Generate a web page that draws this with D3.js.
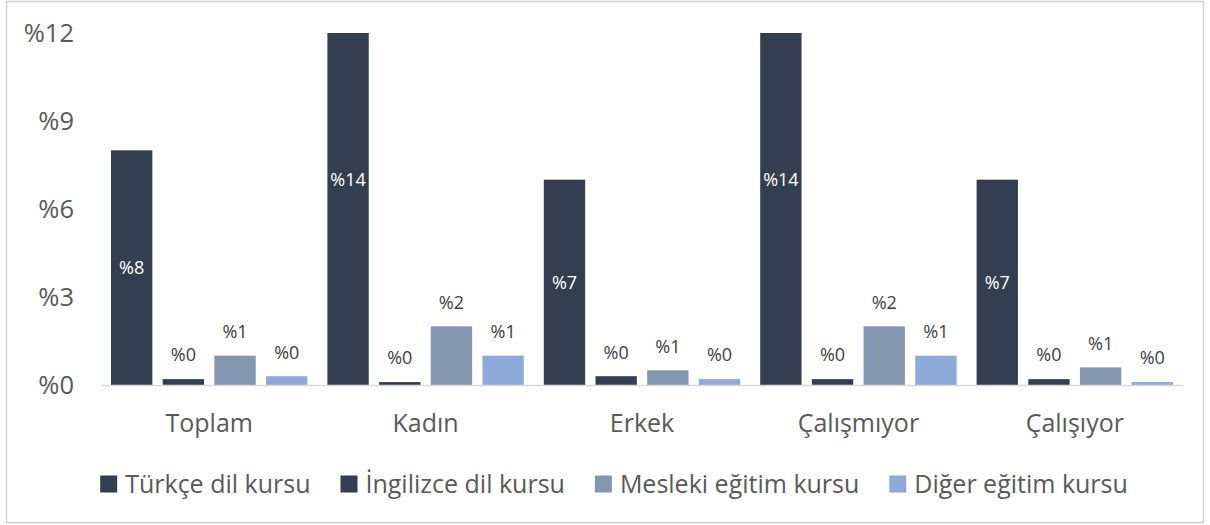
<!DOCTYPE html>
<html>
<meta charset="utf-8">
<title>Kurs katılımı</title>
<style>
body { margin: 0; background: #fff; }
text { font-family: "Open Sans", "Noto Sans", sans-serif; fill: #595959; }
</style>
<body>
<svg id="chart" width="1210" height="525"></svg>
<script src="https://cdn.jsdelivr.net/npm/d3@7"></script>
<script>
// categories and series
var categories = ["Toplam", "Kadın", "Erkek", "Çalışmıyor", "Çalışıyor"];
var seriesNames = ["Türkçe dil kursu", "İngilizce dil kursu", "Mesleki eğitim kursu", "Diğer eğitim kursu"];
var colors = ["#333f50", "#333f50", "#8497b0", "#8eaadb"];

var turkce    = [8, 14, 7, 14, 7];
var ingilizce = [0.2, 0.1, 0.3, 0.2, 0.2];
var mesleki   = [1.0, 2.0, 0.5, 2.0, 0.6];
var diger     = [0.3, 1.0, 0.2, 1.0, 0.1];
var yTicks = [0, 3, 6, 9, 12];

var values = [turkce, ingilizce, mesleki, diger];

var svg = d3.select("#chart");
var plotLeft = 101, plotRight = 1183, plotTop = 33, plotBottom = 385;

// outer frame
svg.append("rect")
  .attr("x", 6.5).attr("y", 1.5)
  .attr("width", 1197).attr("height", 521)
  .attr("fill", "none").attr("stroke", "#d0d0d0").attr("stroke-width", 1.5);

var x0 = d3.scaleBand().domain(categories).range([plotLeft, plotRight]);
var x1 = d3.scaleBand().domain(d3.range(seriesNames.length)).range([10, x0.bandwidth() - 10]).paddingInner(0.2);
var y = d3.scaleLinear().domain([0, 12]).range([plotBottom, plotTop]);

// y tick labels
svg.append("g").selectAll("text")
  .data(yTicks).enter().append("text")
  .attr("x", 74)
  .attr("y", function(d){ return y(d); })
  .attr("dy", "0.35em")
  .attr("text-anchor", "end")
  .style("font-size", "25.5px")
  .text(function(d){ return "%" + d; });

svg.append("defs").append("clipPath").attr("id", "plotclip")
  .append("rect").attr("x", plotLeft).attr("y", plotTop).attr("width", plotRight - plotLeft).attr("height", plotBottom - plotTop);

var rows = [];
categories.forEach(function(c, i){
  values.forEach(function(s, j){
    rows.push({cat: c, s: j, v: s[i]});
  });
});

var bars = svg.append("g").attr("clip-path", "url(#plotclip)");
bars.selectAll("rect").data(rows).enter().append("rect")
  .attr("x", function(d){ return x0(d.cat) + x1(d.s); })
  .attr("width", x1.bandwidth())
  .attr("y", function(d){ return y(d.v); })
  .attr("height", function(d){ return plotBottom - y(d.v); })
  .attr("fill", function(d){ return colors[d.s]; });

// axis line
svg.append("line")
  .attr("x1", plotLeft).attr("x2", plotRight)
  .attr("y1", plotBottom + 0.5).attr("y2", plotBottom + 0.5)
  .attr("stroke", "#d9d9d9").attr("stroke-width", 1.5);

// data labels
svg.append("g").selectAll("text").data(rows).enter().append("text")
  .attr("x", function(d){ return x0(d.cat) + x1(d.s) + x1.bandwidth() / 2; })
  .attr("y", function(d){
    return d.s === 0 ? (y(d.v) + plotBottom) / 2 : y(d.v) - 24;
  })
  .attr("dy", "0.35em")
  .attr("text-anchor", "middle")
  .style("font-size", "18px")
  .style("fill", function(d){ return d.s === 0 ? "#ffffff" : "#404040"; })
  .text(function(d){ return "%" + Math.round(d.v); });

// category labels
svg.append("g").selectAll("text").data(categories).enter().append("text")
  .attr("x", function(d){ return x0(d) + x0.bandwidth() / 2; })
  .attr("y", 423)
  .attr("dy", "0.35em")
  .attr("text-anchor", "middle")
  .style("font-size", "25px")
  .text(function(d){ return d; });

// legend, laid out from measured text widths and centred
var legend = svg.append("g").attr("transform", "translate(0,484)");
var items = legend.selectAll("g").data(seriesNames).enter().append("g");
items.append("rect").attr("x", 0).attr("y", -8.5).attr("width", 17).attr("height", 17)
  .attr("fill", function(d, i){ return colors[i]; });
items.append("text").attr("x", 25).attr("dy", "0.35em").style("font-size", "25px")
  .text(function(d){ return d; });
var pos = 0, starts = [];
items.each(function(){
  starts.push(pos);
  pos += 25 + d3.select(this).select("text").node().getComputedTextLength() + 30;
});
var total = pos - 30, offset = 614 - total / 2;
items.attr("transform", function(d, i){ return "translate(" + (offset + starts[i]) + ",0)"; });
</script>
</body>
</html>
